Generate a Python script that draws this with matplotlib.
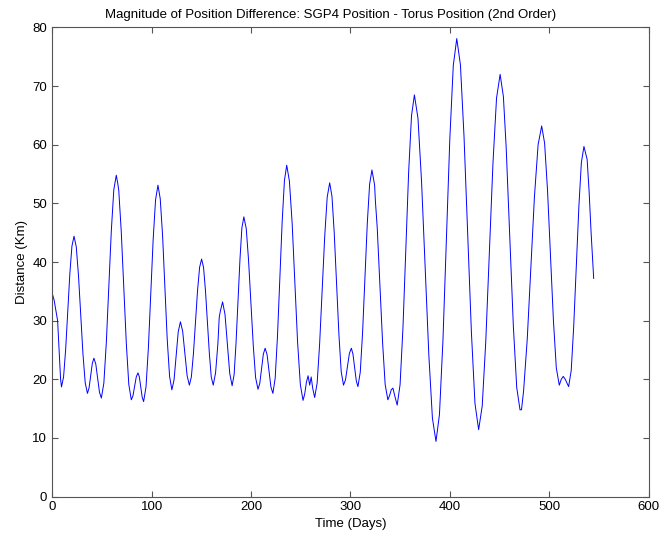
import matplotlib
matplotlib.use("Agg")
import matplotlib.pyplot as plt

plt.rcParams["font.family"] = ["Liberation Sans", "DejaVu Sans"]

# Days and distance (Km)
days = [0, 2, 4, 5.5, 7, 8.5, 9.4, 11.5, 13.6, 15.7, 17.8, 19.9, 22,
        24.25, 26.5, 28.75, 31, 33.25, 35.5, 37.1, 38.75, 40.4, 42,
        43.9, 45.75, 47.6, 49.5, 52, 54.5, 57, 59.5, 62, 64.5,
        66, 67, 69.5, 72, 74.6, 77.1, 79.6, 81.3, 83, 84.6, 86.3,
        87.7, 89.2, 90.6, 92, 94.4, 96.8, 99.2, 101.6, 104, 106.4,
        108.7, 111.1, 113.4, 115.7, 118.1, 120.4, 122.6, 124.7, 126.8, 129,
        131.25, 133.5, 135.75, 138, 140, 142.1, 144.2, 146.2, 148.3, 150.3,
        152.25, 154.2, 156.15, 158.1, 160, 162, 164.35, 166.7, 168, 169, 171.4,
        173.8, 176.2, 178.6, 181, 183, 184.9, 186.9, 188.9, 190.8, 192.8,
        195.2, 197.5, 199.9, 202.3, 204.6, 207, 208.8, 210.6, 212.4, 214.2,
        216.15, 218.1, 220, 222, 224.3, 226.6, 229, 231.3, 233.6, 235.9,
        238.6, 241.4, 244.1, 246.8, 249.6, 252.3, 254, 255.7, 257.4, 259,
        260.5, 262, 264, 266.5, 269, 271.55, 274.1, 276.6, 279.1,
        281.4, 283.7, 286, 288.4, 290.7, 293, 295, 297, 298.9, 300.9,
        302.5, 304.2, 305.9, 307.5, 309.85, 312.2, 314.55, 316.9, 319.25, 321.6,
        324.3, 325, 326.9, 329.6, 332.3, 334.9, 337.6, 339.3, 341, 342.7,
        344.8, 347, 349.9, 352.8, 355.65, 358.5, 361.4, 364.3,
        367.9, 371.5, 375.15, 378.8, 382.4, 386, 389.5, 393, 396.45, 399.9,
        403.4, 406.9, 410.6, 414.2, 417.9, 421.6, 425.2, 428.9, 432.5, 436.1,
        439.7, 443.3, 446.9, 450.5, 453.8, 456.6, 457.2, 460.5, 463.8, 467.2,
        470.5, 472, 474.1, 477.8, 481.4, 485, 488.7, 492.3, 495.25, 498.2,
        501.15, 504.1, 507, 510, 512, 514, 516, 519.4, 522, 524.5,
        527.1, 529.7, 532.2, 534.8, 536.5, 538, 540, 542, 544.6]
dist = [34.7, 33.5, 31.5, 30, 25, 20, 18.7, 20.4, 25.1, 31.55, 38.0, 42.7, 44.4,
        42.6, 37.7, 31.0, 24.3, 19.4, 17.6, 18.5, 20.6, 22.7, 23.6,
        22.6, 20.2, 17.8, 16.8, 19.35, 26.3, 35.8, 45.3, 52.3, 54.8,
        53.4, 52.2, 45.2, 35.65, 26.1, 19.1, 16.5, 17.2, 18.8, 20.4, 21.1,
        20.4, 18.65, 16.9, 16.2, 18.7, 25.4, 34.65, 43.9, 50.6, 53.1,
        50.8, 44.4, 35.65, 26.9, 20.5, 18.2, 19.9, 24.0, 28.1, 29.8,
        28.2, 24.4, 20.6, 19.0, 20.4, 24.4, 29.75, 35.1, 39.1, 40.5,
        39.1, 35.1, 29.75, 24.4, 20.4, 19.0, 21.1, 26.1, 30.5, 31.5, 33.2,
        31.1, 26.05, 21.0, 18.9, 20.8, 26.1, 33.3, 40.5, 45.8, 47.7,
        45.7, 40.35, 33.0, 25.65, 20.3, 18.3, 19.3, 21.8, 24.3, 25.3,
        24.2, 21.45, 18.7, 17.6, 20.2, 27.3, 37.05, 46.8, 53.9, 56.5,
        53.8, 46.5, 36.45, 26.4, 19.1, 16.4, 17.5, 19.5, 20.6, 19.0,
        20.4, 18.5, 16.9, 19.35, 26.05, 35.2, 44.35, 51.05, 53.5,
        51.2, 44.9, 36.25, 27.6, 21.3, 19.0, 19.9, 22.15, 24.4, 25.3,
        24.3, 22.0, 19.7, 18.75, 21.2, 28.0, 37.2, 46.5, 53.25, 55.7,
        53.1, 50.6, 45.9, 36.1, 26.3, 19.1, 16.5, 17.2, 18.2, 18.5,
        17.0, 15.6, 19.1, 28.8, 42.05, 55.3, 64.95, 68.5,
        64.5, 53.7, 38.95, 24.2, 13.4, 9.4, 14.0, 26.6, 43.75, 60.9,
        73.5, 78.1, 73.6, 61.4, 44.75, 28.1, 15.9, 11.4, 15.45, 26.55,
        41.7, 56.85, 67.95, 72.0, 68.2, 59.5, 57.0, 43.4, 29.1, 18.6,
        14.8, 14.8, 18.0, 26.9, 39.0, 51.1, 60.0, 63.2, 60.25, 52.15,
        41.1, 30.05, 21.95, 19.0, 20.0, 20.5, 20.0, 18.75, 21.5, 29.0,
        39.2, 49.45, 56.95, 59.7, 58.5, 57.5, 52.0, 45.0, 37.2]

fig = plt.figure(figsize=(6.6, 5.38), dpi=100)
ax = fig.add_axes([0.079, 0.077, 0.904, 0.872])
ax.plot(days, dist, color="#0000ff", linewidth=0.7)

ax.set_xlim(0, 600)
ax.set_ylim(0, 80)
ax.set_xticks(range(0, 601, 100))
ax.set_yticks(range(0, 81, 10))
ax.tick_params(direction="in", top=True, right=True, labelsize=9.5,
               length=4, color="#555555")
for s in ax.spines.values():
    s.set_color("#555555")
ax.set_title("Magnitude of Position Difference: SGP4 Position - Torus Position (2nd Order)",
             fontsize=9.5, pad=7, x=0.466)
ax.set_xlabel("Time (Days)", fontsize=9.5, labelpad=3)
ax.set_ylabel("Distance (Km)", fontsize=9.5, labelpad=3)

fig.savefig("out.png", dpi=100)
